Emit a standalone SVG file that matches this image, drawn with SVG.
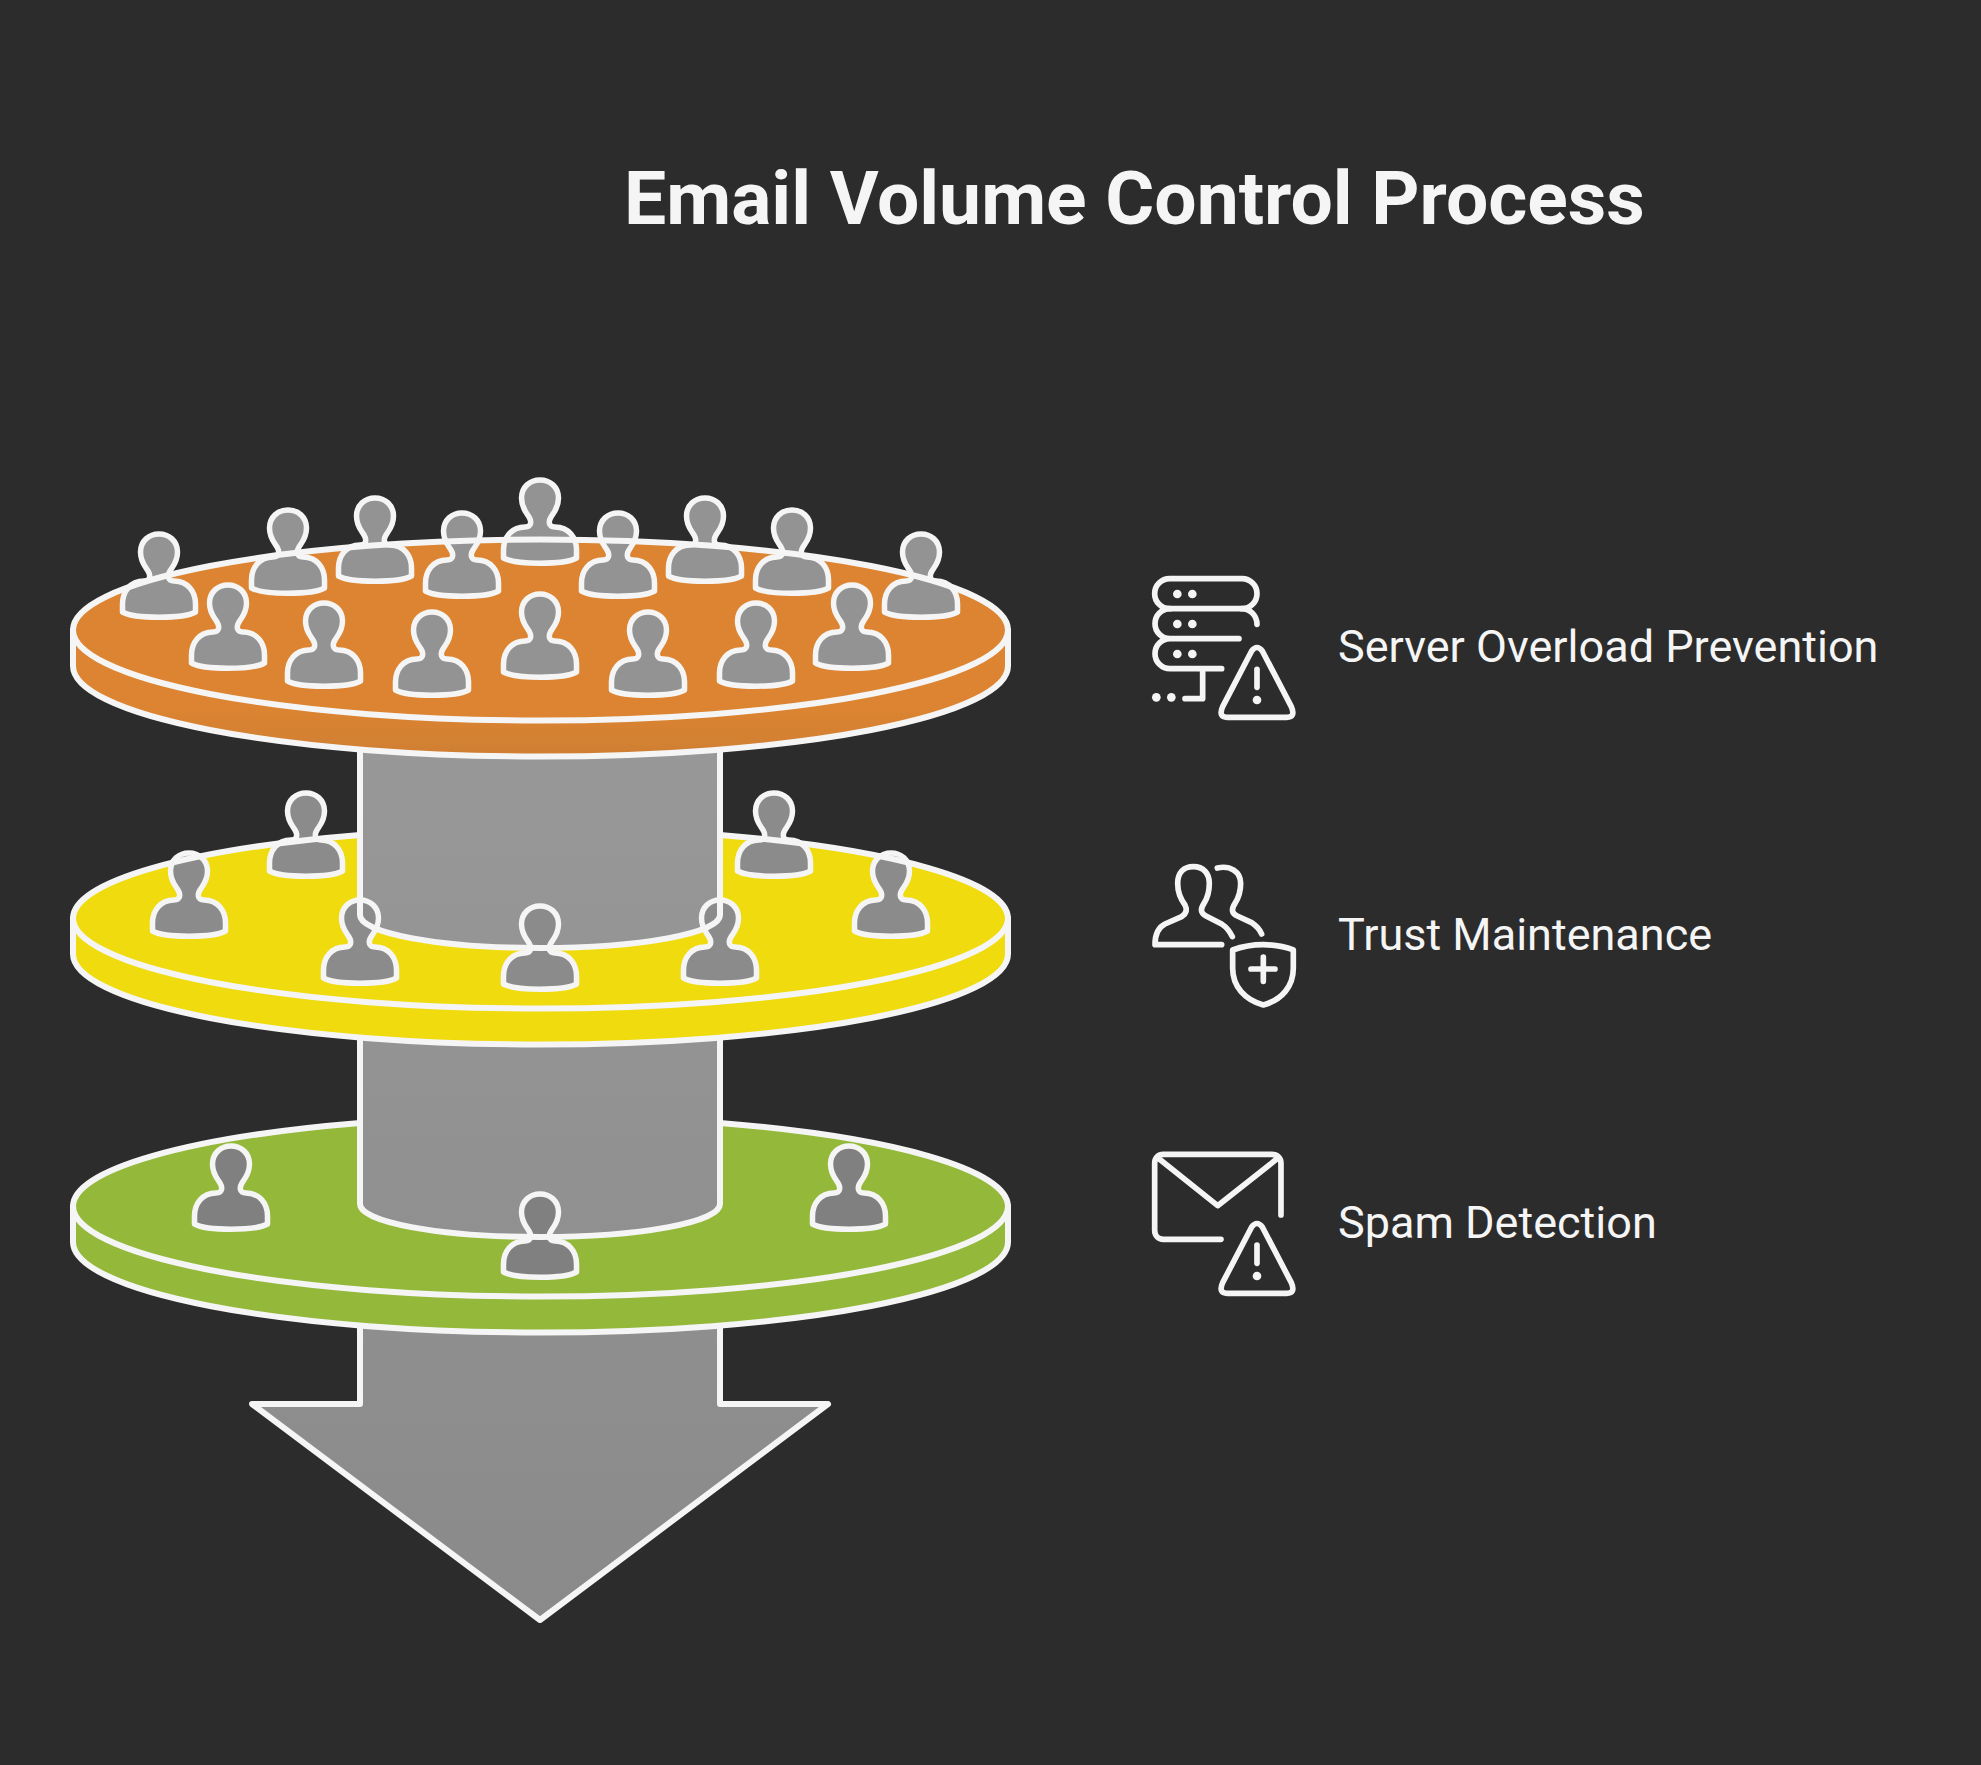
<svg xmlns="http://www.w3.org/2000/svg" width="1981" height="1765" viewBox="0 0 1981 1765">
<style>
.ln{fill:none;stroke:#f5f5f5;stroke-width:6;stroke-linecap:round;stroke-linejoin:round}
.col{fill:url(#gr);stroke:none}
.p{stroke:#f5f5f5;stroke-width:5.5;stroke-linejoin:round}
.pa{fill:#939393}.pb{fill:#8b8b8b}.pc{fill:#808080}
.ic{fill:none;stroke:#f5f5f5;stroke-width:17;stroke-linecap:round;stroke-linejoin:round}
.dot{fill:#f5f5f5}
text{font-family:Roboto,"Liberation Sans",sans-serif;fill:#f5f5f5}
.t{font-size:75px;font-weight:700}
.l{font-size:45px}
</style>
<defs>
<linearGradient id="gr" gradientUnits="userSpaceOnUse" x1="0" y1="740" x2="0" y2="1620"><stop offset="0" stop-color="#989898"/><stop offset="1" stop-color="#8a8a8a"/></linearGradient>
<linearGradient id="ro" x1="0" y1="0" x2="0" y2="1"><stop offset="0.6" stop-color="#dc8431"/><stop offset="1" stop-color="#cf7f33"/></linearGradient>
<path id="person" d="M-11 37C-14 32-18.5 28-18.5 18C-18.5 7-10 0 0 0C10 0 18.5 7 18.5 18C18.5 28 14 32 11 37C8.5 41 8 47 15 47C29 47 36.5 58 36.5 70V78C24 85-24 85-36.5 78V70C-36.5 58-29 47-15 47C-8 47-8.5 41-11 37Z"/>
</defs>
<rect width="1981" height="1765" fill="#2c2c2c"/>
<text class="t" x="624" y="224">Email Volume Control Process</text>
<g id="arrow"><path class="col" d="M360 1300V1404H252L540 1620L828 1404H720V1300Z"/><path class="ln" d="M360 1300V1404H252L540 1620L828 1404H720V1300"/></g>
<g id="tier-green">
<path fill="#93b83a" d="M73 1206V1242A467.5 90.5 0 0 0 1008 1242V1206Z"/>
<ellipse cx="540.5" cy="1206" rx="467.5" ry="90.5" fill="#93b83a"/>
<path class="col" d="M360 1030V1204A180 33 0 0 0 720 1204V1030Z"/>
<use href="#person" class="p pc" x="231" y="1146"/>
<use href="#person" class="p pc" x="849" y="1146"/>
<use href="#person" class="p pc" x="540" y="1194"/>
<path class="ln" d="M360 1030V1204A180 33 0 0 0 720 1204V1030"/>
<path class="ln" d="M360 1123A467.5 90.5 0 0 0 73 1206V1242A467.5 90.5 0 0 0 1008 1242V1206A467.5 90.5 0 0 0 720 1123"/>
<path class="ln" d="M73 1206A467.5 90.5 0 0 0 1008 1206"/>
</g>
<g id="tier-yellow">
<path fill="#efdb0e" d="M73 918V954A467.5 90.5 0 0 0 1008 954V918Z"/>
<ellipse cx="540.5" cy="918" rx="467.5" ry="90.5" fill="#efdb0e"/>
<path class="col" d="M360 740V915A180 33 0 0 0 720 915V740Z"/>
<use href="#person" class="p pb" x="189" y="853"/>
<use href="#person" class="p pb" x="306" y="793"/>
<use href="#person" class="p pb" x="360" y="900"/>
<use href="#person" class="p pb" x="540" y="906"/>
<use href="#person" class="p pb" x="720" y="900"/>
<use href="#person" class="p pb" x="774" y="793"/>
<use href="#person" class="p pb" x="891" y="853"/>
<path class="ln" d="M360 740V915A180 33 0 0 0 720 915V740"/>
<path class="ln" d="M360 835A467.5 90.5 0 0 0 73 918V954A467.5 90.5 0 0 0 1008 954V918A467.5 90.5 0 0 0 720 835"/>
<path class="ln" d="M73 918A467.5 90.5 0 0 0 1008 918"/>
</g>
<g id="tier-orange">
<path fill="url(#ro)" d="M73 630V666A467.5 90.5 0 0 0 1008 666V630Z"/>
<ellipse cx="540.5" cy="630" rx="467.5" ry="90.5" fill="#dc8431"/>
<use href="#person" class="p pa" x="159" y="534"/>
<use href="#person" class="p pa" x="288" y="510"/>
<use href="#person" class="p pa" x="375" y="498"/>
<use href="#person" class="p pa" x="462" y="513"/>
<use href="#person" class="p pa" x="540" y="480"/>
<use href="#person" class="p pa" x="618" y="513"/>
<use href="#person" class="p pa" x="705" y="498"/>
<use href="#person" class="p pa" x="792" y="510"/>
<use href="#person" class="p pa" x="921" y="534"/>
<use href="#person" class="p pa" x="228" y="585"/>
<use href="#person" class="p pa" x="324" y="603"/>
<use href="#person" class="p pa" x="432" y="612"/>
<use href="#person" class="p pa" x="540" y="594"/>
<use href="#person" class="p pa" x="648" y="612"/>
<use href="#person" class="p pa" x="756" y="603"/>
<use href="#person" class="p pa" x="852" y="585"/>
<ellipse class="ln" cx="540.5" cy="630" rx="467.5" ry="90.5"/>
<path class="ln" d="M73 630V666A467.5 90.5 0 0 0 1008 666V630"/>
</g>
<g id="item-server">
<g transform="translate(1130 560) scale(.3333)">
<rect class="ic" x="74" y="56" width="307" height="90" rx="45"/>
<path class="ic" d="M381 193C381 168 362 146 335 146M120 146A45 45 0 0 0 120 236H327M120 236A45 45 0 0 0 120 326H275M218 326V416H165"/>
<path class="ic" d="M365 273Q381 252 397 273L484 440Q498 472 470 472H292Q264 472 278 440Z"/>
<path class="ic" d="M381 328V382"/>
<g class="dot"><circle cx="142" cy="102" r="13"/><circle cx="187" cy="102" r="13"/><circle cx="142" cy="192" r="13"/><circle cx="187" cy="192" r="13"/><circle cx="142" cy="282" r="13"/><circle cx="187" cy="282" r="13"/><circle cx="79" cy="412" r="13"/><circle cx="124" cy="412" r="13"/><circle cx="381" cy="420" r="13"/></g>
</g>
<text class="l" x="1338" y="662">Server Overload Prevention</text>
</g>
<g id="item-trust">
<g transform="translate(1130 850) scale(.3333)">
<path class="ic" d="M275 284H75C75 255 85 232 105 222L155 200C170 190 172 178 165 165C150 145 143 125 143 100C143 70 160 50 190 50C220 50 238 70 238 100C238 125 232 145 222 160C210 178 212 190 228 198L275 222C290 232 300 245 307 260"/>
<path class="ic" d="M262 54C300 45 332 65 332 100C332 125 325 145 315 160C303 178 305 190 322 198L365 218C380 228 390 240 395 252"/>
<path class="ic" d="M400 284C370 284 335 290 308 300V355C308 410 345 450 400 465C455 450 490 410 490 355V300C465 290 430 284 400 284ZM400 321V394M363 357H435"/>
</g>
<text class="l" x="1338" y="950">Trust Maintenance</text>
</g>
<g id="item-spam">
<g transform="translate(1130 1135) scale(.3333)">
<path class="ic" d="M453 240V85C453 68 442 58 425 58H100C85 58 74 68 74 85V285C74 302 85 313 100 313H273M85 70L263 212L443 70"/>
<path class="ic" d="M365 276Q381 255 397 276L484 443Q498 475 470 475H292Q264 475 278 443Z"/>
<path class="ic" d="M381 330V385"/>
<circle class="dot" cx="381" cy="423" r="13"/>
</g>
<text class="l" x="1338" y="1238">Spam Detection</text>
</g>
</svg>
